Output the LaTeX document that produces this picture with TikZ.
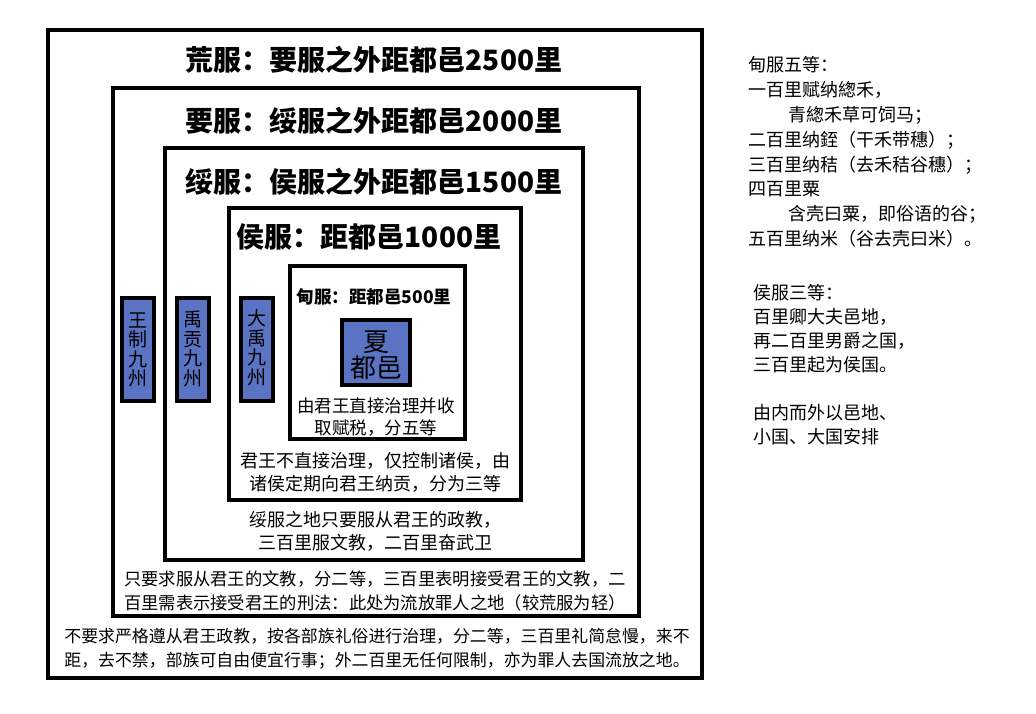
\documentclass[tikz,border=0pt]{standalone}
\usepackage{fontspec}
\setmainfont{Noto Sans CJK SC}
\definecolor{zoneblue}{RGB}{90,115,195}
\begin{document}
\begin{tikzpicture}[x=1pt,y=-1pt,
  ring/.style={draw=black,line width=4pt},
  zone/.style={draw=black,line width=4pt,fill=zoneblue},
  title/.style={font=\bfseries\fontsize{28}{30}\selectfont,inner sep=0pt},
  desc/.style={align=center,inner sep=0pt},
  vert/.style={align=center,inner sep=0pt,font=\fontsize{19}{19.5}\selectfont},
  note/.style={align=left,anchor=west,inner sep=0pt}]
\useasboundingbox[fill=white] (0,0) rectangle (1036,713);
% nested zones
\draw[ring] (48,30) rectangle (702,678);
\draw[ring] (113,88) rectangle (639,616);
\draw[ring] (165,148) rectangle (583,560);
\draw[ring] (229,208) rectangle (521,500);
\draw[ring] (290,266) rectangle (465,439);
\draw[zone] (342,320) rectangle (410,385);
\draw[zone] (122,298) rectangle (154,401);
\draw[zone] (177,298) rectangle (209,401);
\draw[zone] (241,298) rectangle (273,401);
% titles
\node[title] (thuang) at (374,60) {荒服：要服之外距都邑2500里};
\node[title] (tyao) at (374,121) {要服：绥服之外距都邑2000里};
\node[title] (tsui) at (374,182) {绥服：侯服之外距都邑1500里};
\node[title] (thou) at (369,237) {侯服：距都邑1000里};
\node[inner sep=0pt,font=\bfseries\fontsize{17.5}{20}\selectfont] (tdian) at (374,297) {甸服：距都邑500里};
\node[desc,font=\fontsize{26}{26}\selectfont] (xia) at (376,355) {夏\\都邑};
% descriptions
\node[desc,font=\fontsize{17.5}{22}\selectfont] (ddian) at (376,417) {由君王直接治理并收\\取赋税，分五等};
\node[desc,font=\fontsize{18}{23}\selectfont] (dhou) at (375,472) {君王不直接治理，仅控制诸侯，由\\诸侯定期向君王纳贡，分为三等};
\node[desc,font=\fontsize{18}{23}\selectfont] (dsui) at (375,531) {绥服之地只要服从君王的政教，\\三百里服文教，二百里奋武卫};
\node[desc,font=\fontsize{17.3}{24}\selectfont] (dyao) at (375,591) {只要求服从君王的文教，分二等，三百里表明接受君王的文教，二\\百里需表示接受君王的刑法：此处为流放罪人之地（较荒服为轻）};
\node[desc,font=\fontsize{16.9}{23.5}\selectfont] (dhuang) at (377,648.5) {不要求严格遵从君王政教，按各部族礼俗进行治理，分二等，三百里礼简怠慢，来不\\距，去不禁，部族可自由便宜行事；外二百里无任何限制，亦为罪人去国流放之地。};
% vertical labels
\node[vert] (wz) at (138,350) {王\\制\\九\\州};
\node[vert] (yg) at (193,349) {禹\\贡\\九\\州};
\node[vert] (dy) at (257,348) {大\\禹\\九\\州};
% side notes
\node[note,font=\fontsize{18}{24.8}\selectfont] (n1) at (748,152) {甸服五等：\\一百里赋纳緫禾，\\\hspace*{40pt}青緫禾草可饲马；\\二百里纳銍（干禾带穗）；\\三百里纳秸（去禾秸谷穗）；\\四百里粟\\\hspace*{40pt}含壳曰粟，即俗语的谷；\\五百里纳米（谷去壳曰米）。};
\node[note,font=\fontsize{18}{24}\selectfont] (n2) at (753,365) {侯服三等：\\百里卿大夫邑地，\\再二百里男爵之国，\\三百里起为侯国。\\[24pt]由内而外以邑地、\\小国、大国安排};
\end{tikzpicture}
\end{document}
